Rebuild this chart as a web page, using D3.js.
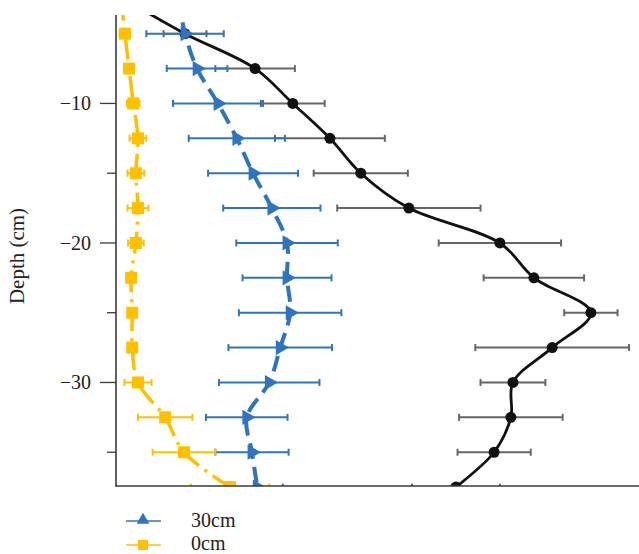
<!DOCTYPE html>
<html>
<head>
<meta charset="utf-8">
<script src="https://cdn.jsdelivr.net/npm/d3@7"></script>
<style>
  html, body { margin: 0; padding: 0; background: #fff; }
  svg { display: block; }
  text { font-family: "Liberation Serif", "DejaVu Serif", serif; fill: #222; }
</style>
</head>
<body>
<svg id="chart" width="639" height="554"></svg>
<script>
// ---- data ----
const depths = [-2.5, -5, -7.5, -10, -12.5, -15, -17.5, -20, -22.5, -25, -27.5, -30, -32.5, -35, -37.5];

// series drawn in black (legend entry not visible in the crop)
const deepMean = [0.15, 1.32, 2.66, 3.38, 4.09, 4.68, 5.60, 7.34, 7.99, 9.08, 8.34, 7.59, 7.55, 7.23, 6.50];
const deepErr  = [0.30, 0.41, 0.76, 0.61, 1.05, 0.90, 1.37, 1.17, 0.96, 0.51, 1.47, 0.62, 0.99, 0.70, 0.84];

// 30cm
const s30Mean = [1.19, 1.32, 1.55, 1.95, 2.31, 2.62, 2.98, 3.27, 3.27, 3.33, 3.14, 2.93, 2.50, 2.60, 2.70];
const s30Err  = [0.50, 0.74, 0.58, 0.86, 0.92, 0.86, 0.93, 0.97, 0.85, 0.98, 0.99, 0.96, 0.78, 0.70, 0.49];

// 0cm
const s0Mean = [0.10, 0.17, 0.25, 0.33, 0.42, 0.38, 0.42, 0.38, 0.29, 0.31, 0.31, 0.42, 0.94, 1.30, 2.18];
const s0Err  = [0.10, 0.10, 0.10, 0.12, 0.16, 0.16, 0.20, 0.15, 0.08, 0.08, 0.08, 0.26, 0.52, 0.60, 0.75];

const yTicksMajor = [-10, -20, -30];
const yTicksMinor = [-15, -25, -35];
const yTickLabels = ["\u221210", "\u221220", "\u221230"];
const yTitle = "Depth (cm)";
const legendNames = ["30cm", "0cm"];

(function () {
// ---- layout ----
const svg = d3.select("#chart");
const pLeft = 116, pRight = 639, pTop = 15, pBottom = 486;

const x = d3.scaleLinear().domain([0, 10]).range([pLeft, pRight]);
const y = d3.scaleLinear().domain([-37.42, -3.66]).range([pBottom, pTop]);

const colBlack = "#111111", colBar = "#666666";
const colBlue = "#2f74bd", colYellow = "#ffc000";

svg.append("defs").append("clipPath").attr("id", "plotclip")
  .append("rect").attr("x", pLeft).attr("y", pTop).attr("width", pRight - pLeft).attr("height", pBottom - pTop);

const plot = svg.append("g").attr("clip-path", "url(#plotclip)");

function seriesData(mean, err) {
  return depths.map((d, i) => ({ d: d, v: mean[i], e: err[i] }));
}
const deep = seriesData(deepMean, deepErr);
const s30 = seriesData(s30Mean, s30Err);
const s0 = seriesData(s0Mean, s0Err);

function errorBars(data, color, width, cap) {
  const g = plot.append("g").attr("stroke", color).attr("stroke-width", width).attr("fill", "none");
  data.forEach(p => {
    const yy = y(p.d), x1 = x(p.v - p.e), x2 = x(p.v + p.e);
    g.append("line").attr("x1", x1).attr("x2", x2).attr("y1", yy).attr("y2", yy);
    g.append("line").attr("x1", x1).attr("x2", x1).attr("y1", yy - cap).attr("y2", yy + cap);
    g.append("line").attr("x1", x2).attr("x2", x2).attr("y1", yy - cap).attr("y2", yy + cap);
  });
}

const lineGen = d3.line().x(p => x(p.v)).y(p => y(p.d)).curve(d3.curveCatmullRom.alpha(0.5));

// deep series (black)
errorBars(deep, colBar, 2, 3.5);
plot.append("path").datum(deep).attr("d", lineGen)
  .attr("fill", "none").attr("stroke", colBlack).attr("stroke-width", 2.8);
plot.append("g").selectAll("circle").data(deep).join("circle")
  .attr("cx", p => x(p.v)).attr("cy", p => y(p.d)).attr("r", 5.5).attr("fill", colBlack);

// 30cm series
errorBars(s30, colBlue, 2, 3.5);
plot.append("path").datum(s30).attr("d", lineGen)
  .attr("fill", "none").attr("stroke", colBlue).attr("stroke-width", 4)
  .attr("stroke-dasharray", "16,8");
plot.append("g").selectAll("path").data(s30).join("path")
  .attr("d", d3.symbol().type(d3.symbolTriangle).size(100))
  .attr("transform", p => `translate(${x(p.v)},${y(p.d)}) rotate(90)`)
  .attr("fill", colBlue);

// 0cm series
errorBars(s0, colYellow, 2, 3.5);
plot.append("path").datum(s0).attr("d", lineGen)
  .attr("fill", "none").attr("stroke", colYellow).attr("stroke-width", 3.5)
  .attr("stroke-dasharray", "22,7,3,7");
plot.append("g").selectAll("rect").data(s0).join("rect")
  .attr("x", p => x(p.v) - 6).attr("y", p => y(p.d) - 6)
  .attr("width", 12).attr("height", 12).attr("fill", colYellow);

// axes
const axisCol = "#3a3a3a";
svg.append("line").attr("x1", pLeft).attr("x2", pLeft).attr("y1", pTop).attr("y2", pBottom)
  .attr("stroke", axisCol).attr("stroke-width", 1.6);
svg.append("line").attr("x1", pLeft - 0.8).attr("x2", pRight).attr("y1", pBottom).attr("y2", pBottom)
  .attr("stroke", axisCol).attr("stroke-width", 1.6);

yTicksMajor.forEach((t, i) => {
  svg.append("line").attr("x1", pLeft - 16).attr("x2", pLeft).attr("y1", y(t)).attr("y2", y(t))
    .attr("stroke", axisCol).attr("stroke-width", 1.3);
  svg.append("text").attr("x", 91).attr("y", y(t)).attr("dy", "0.35em")
    .attr("text-anchor", "end").attr("font-size", 20).text(yTickLabels[i]);
});
yTicksMinor.forEach(t => {
  svg.append("line").attr("x1", pLeft - 9).attr("x2", pLeft).attr("y1", y(t)).attr("y2", y(t))
    .attr("stroke", axisCol).attr("stroke-width", 1.3);
});

svg.append("text").attr("transform", `translate(24,256) rotate(-90)`)
  .attr("text-anchor", "middle").attr("font-size", 21).text(yTitle);

// legend
const lg = svg.append("g");
const legY = [521, 545];
lg.append("line").attr("x1", 126).attr("x2", 161).attr("y1", legY[0]).attr("y2", legY[0])
  .attr("stroke", colBlue).attr("stroke-width", 1.5);
lg.append("path").attr("d", d3.symbol().type(d3.symbolTriangle).size(70))
  .attr("transform", `translate(143,${legY[0] - 1})`).attr("fill", colBlue);
lg.append("text").attr("x", 191).attr("y", legY[0] + 6).attr("font-size", 20).text(legendNames[0]);

lg.append("line").attr("x1", 126).attr("x2", 161).attr("y1", legY[1]).attr("y2", legY[1])
  .attr("stroke", colYellow).attr("stroke-width", 1.5);
lg.append("rect").attr("x", 138).attr("y", legY[1] - 5).attr("width", 10).attr("height", 10).attr("fill", colYellow);
lg.append("text").attr("x", 191).attr("y", legY[1] + 5).attr("font-size", 20).text(legendNames[1]);
})();
</script>
</body>
</html>
